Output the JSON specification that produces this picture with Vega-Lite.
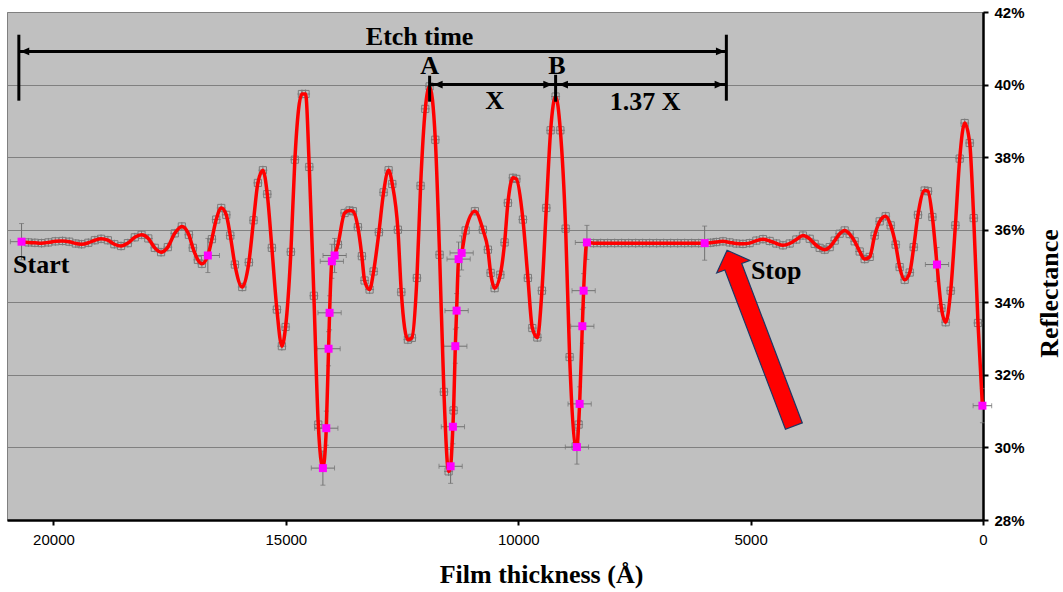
{
  "$schema": "https://vega.github.io/schema/vega-lite/v6.json",
  "width": 976,
  "height": 508,
  "autosize": {"type": "none"},
  "padding": {"left": 7, "top": 12, "right": 80, "bottom": 72},
  "background": "white",
  "config": {"view": {"fill": "#C0C0C0", "stroke": "#808080", "strokeWidth": 1}},
  "datasets": {
    "pts": [
      {"x":20687,"r":35.67,"k":"m","ex":240,"ey":0.5},
      {"x":20540,"r":35.65,"k":"g"},{"x":20400,"r":35.64,"k":"g"},{"x":20257,"r":35.63,"k":"g"},{"x":20110,"r":35.65,"k":"g"},
      {"x":19960,"r":35.68,"k":"g"},{"x":19805,"r":35.69,"k":"g"},{"x":19660,"r":35.67,"k":"g"},{"x":19520,"r":35.62,"k":"g"},
      {"x":19396,"r":35.60,"k":"g"},{"x":19250,"r":35.64,"k":"g"},{"x":19110,"r":35.71,"k":"g"},{"x":18976,"r":35.75,"k":"g"},
      {"x":18830,"r":35.71,"k":"g"},{"x":18690,"r":35.60,"k":"g"},{"x":18546,"r":35.55,"k":"g"},{"x":18400,"r":35.63,"k":"g"},
      {"x":18250,"r":35.79,"k":"g"},{"x":18105,"r":35.86,"k":"g"},{"x":17960,"r":35.76,"k":"g"},{"x":17820,"r":35.50,"k":"g"},
      {"x":17685,"r":35.38,"k":"g"},{"x":17540,"r":35.52,"k":"g"},{"x":17390,"r":35.90,"k":"g"},{"x":17238,"r":36.09,"k":"g"},
      {"x":17087,"r":35.86,"k":"g"},{"x":17001,"r":35.50,"k":"g"},{"x":16893,"r":35.17,"k":"g"},{"x":16807,"r":35.06,"k":"g"},
      {"x":16678,"r":35.29,"k":"m","ex":250,"ey":0.47},
      {"x":16592,"r":35.74,"k":"g"},{"x":16498,"r":36.28,"k":"g"},{"x":16390,"r":36.60,"k":"g"},{"x":16282,"r":36.41,"k":"g"},
      {"x":16196,"r":35.84,"k":"g"},{"x":16097,"r":35.04,"k":"g"},{"x":15938,"r":34.42,"k":"g"},{"x":15796,"r":35.10,"k":"g"},
      {"x":15695,"r":36.26,"k":"g"},{"x":15602,"r":37.29,"k":"g"},{"x":15494,"r":37.64,"k":"g"},{"x":15400,"r":36.98,"k":"g"},
      {"x":15301,"r":35.50,"k":"g"},{"x":15193,"r":33.80,"k":"g"},{"x":15086,"r":32.79,"k":"g"},{"x":15006,"r":33.32,"k":"g"},
      {"x":14892,"r":35.39,"k":"g"},{"x":14806,"r":37.93,"k":"g"},{"x":14655,"r":39.74,"k":"g"},{"x":14576,"r":39.74,"k":"g"},
      {"x":14496,"r":37.73,"k":"g"},{"x":14397,"r":34.18,"k":"g"},{"x":14302,"r":30.63,"k":"g"},
      {"x":14203,"r":29.43,"k":"m","ex":250,"ey":0.47},
      {"x":14130,"r":30.53,"k":"m","ex":250,"ey":0.47},
      {"x":14081,"r":32.72,"k":"m","ex":250,"ey":0.47},
      {"x":14059,"r":33.71,"k":"m","ex":250,"ey":0.47},
      {"x":14010,"r":35.13,"k":"m","ex":250,"ey":0.47},
      {"x":13951,"r":35.29,"k":"m","ex":250,"ey":0.47},
      {"x":13880,"r":35.59,"k":"g"},{"x":13736,"r":36.46,"k":"g"},{"x":13629,"r":36.53,"k":"g"},{"x":13558,"r":36.51,"k":"g"},
      {"x":13450,"r":36.07,"k":"g"},{"x":13364,"r":35.27,"k":"g"},{"x":13306,"r":34.60,"k":"g"},{"x":13198,"r":34.35,"k":"g"},
      {"x":13112,"r":34.85,"k":"g"},{"x":12998,"r":35.93,"k":"g"},{"x":12897,"r":37.03,"k":"g"},{"x":12789,"r":37.64,"k":"g"},
      {"x":12710,"r":37.26,"k":"g"},{"x":12589,"r":36.00,"k":"g"},{"x":12516,"r":34.28,"k":"g"},{"x":12374,"r":32.97,"k":"g"},
      {"x":12288,"r":33.02,"k":"g"},{"x":12180,"r":34.67,"k":"g"},{"x":12101,"r":37.21,"k":"g"},{"x":12000,"r":39.33,"k":"g"},
      {"x":11907,"r":39.95,"k":"g"},{"x":11784,"r":38.48,"k":"g"},{"x":11692,"r":35.31,"k":"g"},{"x":11599,"r":31.53,"k":"g"},
      {"x":11498,"r":29.34,"k":"g"},
      {"x":11455,"r":29.48,"k":"m","ex":250,"ey":0.47},
      {"x":11406,"r":30.57,"k":"m","ex":250,"ey":0.47},
      {"x":11391,"r":31.02,"k":"g"},
      {"x":11354,"r":32.79,"k":"m","ex":250,"ey":0.47},
      {"x":11326,"r":33.77,"k":"m","ex":250,"ey":0.47},
      {"x":11283,"r":35.19,"k":"m","ex":250,"ey":0.47},
      {"x":11218,"r":35.36,"k":"m","ex":250,"ey":0.47},
      {"x":11132,"r":35.98,"k":"g"},{"x":10932,"r":36.51,"k":"g"},{"x":10760,"r":36.00,"k":"g"},{"x":10652,"r":35.45,"k":"g"},
      {"x":10594,"r":34.81,"k":"g"},{"x":10508,"r":34.39,"k":"g"},{"x":10386,"r":34.76,"k":"g"},{"x":10293,"r":35.65,"k":"g"},
      {"x":10222,"r":36.74,"k":"g"},{"x":10114,"r":37.43,"k":"g"},{"x":10041,"r":37.40,"k":"g"},{"x":9899,"r":36.28,"k":"g"},
      {"x":9792,"r":34.67,"k":"g"},{"x":9697,"r":33.29,"k":"g"},{"x":9589,"r":33.03,"k":"g"},{"x":9490,"r":34.32,"k":"g"},
      {"x":9396,"r":36.60,"k":"g"},{"x":9303,"r":38.74,"k":"g"},{"x":9196,"r":39.67,"k":"g"},{"x":9094,"r":38.74,"k":"g"},
      {"x":8980,"r":36.03,"k":"g"},{"x":8894,"r":32.49,"k":"g"},{"x":8765,"r":30.03,"k":"g"},
      {"x":8737,"r":30.01,"k":"m","ex":250,"ey":0.47},
      {"x":8701,"r":30.63,"k":"g"},
      {"x":8679,"r":31.20,"k":"m","ex":250,"ey":0.47},
      {"x":8621,"r":33.34,"k":"m","ex":250,"ey":0.47},
      {"x":8593,"r":34.32,"k":"m","ex":250,"ey":0.47},
      {"x":8522,"r":35.65,"k":"m","ex":250,"ey":0.47},
      {"x":8378,"r":35.63,"k":"g"},{"x":8227,"r":35.63,"k":"g"},{"x":8077,"r":35.63,"k":"g"},{"x":7926,"r":35.63,"k":"g"},
      {"x":7775,"r":35.63,"k":"g"},{"x":7625,"r":35.63,"k":"g"},{"x":7474,"r":35.63,"k":"g"},{"x":7323,"r":35.63,"k":"g"},
      {"x":7173,"r":35.63,"k":"g"},{"x":7022,"r":35.63,"k":"g"},{"x":6871,"r":35.63,"k":"g"},{"x":6721,"r":35.63,"k":"g"},
      {"x":6570,"r":35.63,"k":"g"},{"x":6419,"r":35.63,"k":"g"},{"x":6269,"r":35.63,"k":"g"},{"x":6118,"r":35.63,"k":"g"},
      {"x":5989,"r":35.63,"k":"m","ex":250,"ey":0.47},
      {"x":5860,"r":35.64,"k":"g"},{"x":5737,"r":35.66,"k":"g"},{"x":5595,"r":35.68,"k":"g"},{"x":5451,"r":35.65,"k":"g"},
      {"x":5307,"r":35.62,"k":"g"},{"x":5165,"r":35.61,"k":"g"},{"x":5021,"r":35.63,"k":"g"},{"x":4876,"r":35.70,"k":"g"},
      {"x":4734,"r":35.74,"k":"g"},{"x":4590,"r":35.69,"k":"g"},{"x":4446,"r":35.62,"k":"g"},{"x":4304,"r":35.57,"k":"g"},
      {"x":4160,"r":35.62,"k":"g"},{"x":4016,"r":35.73,"k":"g"},{"x":3874,"r":35.84,"k":"g"},{"x":3729,"r":35.75,"k":"g"},
      {"x":3622,"r":35.61,"k":"g"},{"x":3514,"r":35.50,"k":"g"},{"x":3407,"r":35.45,"k":"g"},{"x":3299,"r":35.52,"k":"g"},
      {"x":3191,"r":35.70,"k":"g"},{"x":3084,"r":35.89,"k":"g"},{"x":2976,"r":35.98,"k":"g"},{"x":2869,"r":35.88,"k":"g"},
      {"x":2761,"r":35.68,"k":"g"},{"x":2653,"r":35.40,"k":"g"},{"x":2546,"r":35.19,"k":"g"},{"x":2438,"r":35.25,"k":"g"},
      {"x":2331,"r":35.84,"k":"g"},{"x":2223,"r":36.23,"k":"g"},{"x":2094,"r":36.37,"k":"g"},{"x":1986,"r":36.12,"k":"g"},
      {"x":1879,"r":35.59,"k":"g"},{"x":1793,"r":34.97,"k":"g"},{"x":1685,"r":34.62,"k":"g"},{"x":1577,"r":34.82,"k":"g"},
      {"x":1491,"r":35.52,"k":"g"},{"x":1399,"r":36.41,"k":"g"},{"x":1255,"r":37.08,"k":"g"},{"x":1184,"r":37.06,"k":"g"},
      {"x":1089,"r":36.35,"k":"g"},
      {"x":990,"r":35.04,"k":"m","ex":250,"ey":0.47},
      {"x":895,"r":33.84,"k":"g"},{"x":803,"r":33.45,"k":"g"},{"x":695,"r":34.32,"k":"g"},{"x":594,"r":36.12,"k":"g"},
      {"x":501,"r":37.96,"k":"g"},{"x":394,"r":38.94,"k":"g"},{"x":286,"r":38.39,"k":"g"},{"x":200,"r":36.32,"k":"g"},
      {"x":108,"r":33.43,"k":"g"},
      {"x":13,"r":31.15,"k":"m","ex":200,"ey":0.47}
    ],
    "rules": [
      {"x":20745,"r":40.914,"x2":5522,"r2":40.914},
      {"x":20745,"r":41.374,"x2":20745,"r2":39.556},
      {"x":5522,"r":41.374,"x2":5522,"r2":39.556},
      {"x":11907,"r":40.245,"x2":11907,"r2":39.528},
      {"x":9196,"r":40.27,"x2":9196,"r2":39.528},
      {"x":11907,"r":40.0,"x2":9196,"r2":40.0},
      {"x":9196,"r":40.0,"x2":5522,"r2":40.0}
    ],
    "heads": [
      {"x":20618,"r":40.914,"d":"l"},
      {"x":5649,"r":40.914,"d":"r"},
      {"x":11724,"r":40.0,"d":"l"},
      {"x":9363,"r":40.0,"d":"r"},
      {"x":9028,"r":40.0,"d":"l"},
      {"x":5677,"r":40.0,"d":"r"}
    ],
    "labels": [
      {"x":12122,"r":41.08,"t":"Etch time"},
      {"x":11907,"r":40.30,"t":"A"},
      {"x":9170,"r":40.30,"t":"B"},
      {"x":10508,"r":39.33,"t":"X"},
      {"x":7269,"r":39.31,"t":"1.37 X"},
      {"x":20263,"r":34.81,"t":"Start"},
      {"x":4450,"r":34.64,"t":"Stop"}
    ],
    "arrow": [
      {"x":4788,"r":33.01}
    ]
  },
  "encoding": {
    "x": {
      "field": "x", "type": "quantitative",
      "scale": {"domain": [0, 21000], "reverse": true, "nice": false, "zero": false},
      "axis": {
        "values": [0, 5000, 10000, 15000, 20000], "format": "d", "grid": false, "labelFlush": false, "labelOverlap": false,
        "domainColor": "black", "domainWidth": 2.5, "tickColor": "black", "tickWidth": 2, "tickSize": 5,
        "labelFont": "Liberation Sans", "labelFontSize": 15, "labelColor": "black", "labelPadding": 7,
        "title": "Film thickness (Å)", "titleFont": "Liberation Serif", "titleFontSize": 26, "titleFontWeight": "bold",
        "titleColor": "black", "titleX": 534, "titleY": 62, "titleBaseline": "alphabetic", "titleAlign": "center"
      }
    },
    "y": {
      "field": "r", "type": "quantitative",
      "scale": {"domain": [28, 42], "nice": false, "zero": false},
      "axis": {
        "orient": "right", "values": [28, 30, 32, 34, 36, 38, 40, 42], "labelExpr": "datum.value + '%'",
        "labelFlush": false, "labelOverlap": false,
        "grid": true, "gridColor": "#808080", "gridWidth": 1,
        "domainColor": "black", "domainWidth": 2.5, "tickColor": "black", "tickWidth": 2, "tickSize": 5,
        "labelFont": "Liberation Sans", "labelFontSize": 15, "labelFontWeight": "bold", "labelColor": "black", "labelPadding": 6,
        "title": "Reflectance", "titleFont": "Liberation Serif", "titleFontSize": 26, "titleFontWeight": "bold",
        "titleColor": "black", "titleAngle": 270, "titleX": 74, "titleY": 281, "titleBaseline": "alphabetic", "titleAlign": "center"
      }
    }
  },
  "layer": [
    {
      "data": {"name": "pts"},
      "transform": [{"filter": "datum.k === 'g'"}],
      "mark": {"type": "point", "shape": "M-0.8,-0.8H0.8V0.8H-0.8Z M-1,0H1 M0,-1V1", "filled": false, "stroke": "#7a7a7a", "strokeWidth": 1, "size": 80, "opacity": 1}
    },
    {
      "data": {"name": "pts"},
      "transform": [{"filter": "datum.k === 'm'"}],
      "mark": {"type": "errorbar", "ticks": true, "color": "#707070", "thickness": 1},
      "encoding": {"yError": {"field": "ey"}}
    },
    {
      "data": {"name": "pts"},
      "transform": [{"filter": "datum.k === 'm'"}],
      "mark": {"type": "errorbar", "ticks": true, "color": "#707070", "thickness": 1},
      "encoding": {"xError": {"field": "ex"}}
    },
    {
      "data": {"name": "pts"},
      "mark": {"type": "line", "interpolate": "monotone", "color": "#FF0000", "strokeWidth": 3.5}
    },
    {
      "data": {"name": "pts"},
      "transform": [{"filter": "datum.k === 'm'"}],
      "mark": {"type": "point", "shape": "square", "filled": true, "color": "#FF00FF", "size": 64, "opacity": 1}
    },
    {
      "data": {"name": "rules"},
      "mark": {"type": "rule", "color": "black", "strokeWidth": 3},
      "encoding": {"x2": {"field": "x2"}, "y2": {"field": "r2"}}
    },
    {
      "data": {"name": "heads"},
      "transform": [{"filter": "datum.d === 'l'"}],
      "mark": {"type": "point", "shape": "M-1,0L1,-0.85L1,0.85Z", "filled": true, "color": "black", "size": 81, "opacity": 1}
    },
    {
      "data": {"name": "heads"},
      "transform": [{"filter": "datum.d === 'r'"}],
      "mark": {"type": "point", "shape": "M1,0L-1,-0.85L-1,0.85Z", "filled": true, "color": "black", "size": 81, "opacity": 1}
    },
    {
      "data": {"name": "labels"},
      "mark": {"type": "text", "font": "Liberation Serif", "fontSize": 26, "fontWeight": "bold", "color": "black", "align": "center", "baseline": "alphabetic"},
      "encoding": {"text": {"field": "t"}}
    },
    {
      "data": {"name": "arrow"},
      "mark": {"type": "point", "shape": "M0,-1L0.189,-0.813L0.096,-0.813L0.096,1L-0.096,1L-0.096,-0.813L-0.189,-0.813Z", "filled": true, "fill": "#FF0000", "stroke": "#1F3763", "strokeWidth": 1.2, "size": 35382, "angle": -20.8, "opacity": 1}
    }
  ]
}
